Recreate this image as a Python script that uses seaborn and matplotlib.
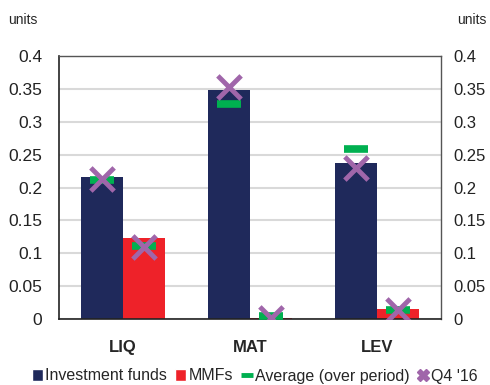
import numpy as np
import pandas as pd
import matplotlib
matplotlib.use("Agg")
import matplotlib.pyplot as plt
import seaborn as sns
from matplotlib.lines import Line2D
from matplotlib.patches import Patch

categories = ["LIQ", "MAT", "LEV"]
series = ["Investment funds", "MMFs"]
inv_funds = [0.216, 0.348, 0.237]
mmfs = [0.123, 0.002, 0.015]
avg_inv = [0.211, 0.327, 0.258]
avg_mmf = [0.111, 0.005, 0.014]
q4_inv = [0.213, 0.353, 0.229]
q4_mmf = [0.110, 0.001, 0.014]
yticks = [0, 0.05, 0.1, 0.15, 0.2, 0.25, 0.3, 0.35, 0.4]
ytick_labels = ["0", "0.05", "0.1", "0.15", "0.2", "0.25", "0.3", "0.35", "0.4"]

navy = "#1F295B"
red = "#EE2229"
green = "#00B050"
purple = "#A066AA"

sns.set_style("white")
plt.rcParams["font.family"] = ["Liberation Sans", "DejaVu Sans"]

df = pd.DataFrame({
    "cat": categories * 2,
    "series": [series[0]] * 3 + [series[1]] * 3,
    "value": inv_funds + mmfs,
})

fig = plt.figure(figsize=(4.9, 3.85), dpi=100)
ax = fig.add_axes([59 / 490, 1 - 319 / 385, 382 / 490, 263 / 385])

sns.barplot(data=df, x="cat", y="value", hue="series", order=categories,
            hue_order=series, palette=[navy, red], width=0.66, ax=ax,
            legend=False, saturation=1, errorbar=None, linewidth=0, gap=0)

# bar centers from seaborn's patches
patches = [p for p in ax.patches]
centers = {}
for i, s in enumerate(series):
    for j in range(len(categories)):
        p = patches[i * len(categories) + j]
        centers[(s, j)] = p.get_x() + p.get_width() / 2

avgs = {series[0]: avg_inv, series[1]: avg_mmf}
q4s = {series[0]: q4_inv, series[1]: q4_mmf}
for s in series:
    xs = [centers[(s, j)] for j in range(len(categories))]
    ax.scatter(xs, avgs[s], marker="_", s=300, linewidths=5.5, color=green, zorder=4)
    ax.scatter(xs, q4s[s], marker="x", s=280, linewidths=3.5, color=purple, zorder=5)

ax.set_ylim(0, 0.4)
ax.set_xlim(-0.5, 2.5)
ax.set_yticks(yticks)
ax.set_yticklabels(ytick_labels)
ax.yaxis.grid(True, color="#D9D9D9", linewidth=1.5)
ax.set_axisbelow(True)
ax.set_xlabel("")
ax.set_ylabel("")
ax.tick_params(axis="y", length=0, labelsize=12.5, pad=12, colors="#222222")
ax.tick_params(axis="x", length=0, labelsize=12, pad=15)
for lab in ax.get_xticklabels():
    lab.set_fontweight("bold")
for side in ["left", "bottom"]:
    ax.spines[side].set_color("#222222")
    ax.spines[side].set_linewidth(1.2)
for side in ["top", "right"]:
    ax.spines[side].set_color("#555555")
    ax.spines[side].set_linewidth(1.0)

ax2 = ax.twinx()
ax2.set_ylim(0, 0.4)
ax2.set_yticks(yticks)
ax2.set_yticklabels(ytick_labels)
ax2.tick_params(axis="y", length=0, labelsize=12, pad=9, colors="#222222")
for sp in ax2.spines.values():
    sp.set_visible(False)

fig.text(8 / 490, 1 - 20 / 385, "units", fontsize=10, va="center", ha="left")
fig.text(486 / 490, 1 - 20 / 385, "units", fontsize=10, va="center", ha="right")

handles = [
    Patch(facecolor=navy, label="Investment funds"),
    Patch(facecolor=red, label="MMFs"),
    Line2D([], [], color=green, marker="_", linestyle="none", markersize=8,
           markeredgewidth=3.5, label="Average (over period)"),
    Line2D([], [], color=purple, marker="X", linestyle="none", markersize=9,
           label="Q4 '16"),
]
fig.legend(handles=handles, loc="center", bbox_to_anchor=(0.52, 1 - 376 / 385),
           ncol=4, frameon=False, fontsize=11.5, handlelength=0.7,
           handletextpad=0.15, columnspacing=0.5, handleheight=0.7)

fig.savefig("out.png", dpi=100)
